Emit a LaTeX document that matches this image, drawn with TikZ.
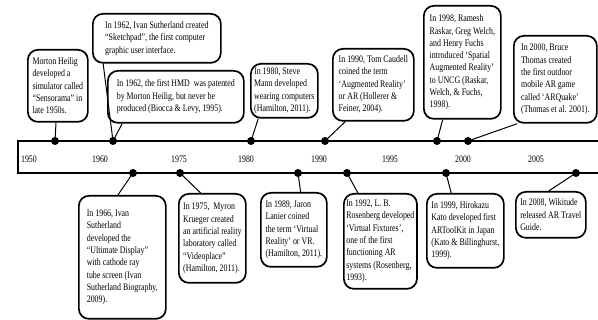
\documentclass[tikz,border=0pt]{standalone}
\usepackage{fontspec}
\setmainfont{Liberation Serif}[FakeStretch=0.79]
\usetikzlibrary{calc}

\begin{document}
\begin{tikzpicture}[
  x=1pt,y=-1pt,
  font=\fontsize{10}{12.3}\selectfont,
  event/.style={draw,line width=1.7pt,rounded corners=10pt,anchor=north west,align=left,inner xsep=2.5pt,inner ysep=2pt},
  dot/.style={circle,fill,inner sep=0pt,minimum size=8pt},
  link/.style={line width=1pt},
  bar/.style={line width=2.2pt},
  year/.style={inner sep=0pt}
]
\useasboundingbox (0,0) rectangle (598,320);
% timeline bar
\draw[bar] (598,141) -- (18,141) -- (18,173) -- (598,173);
\foreach \yr/\xx in {1950/29,1960/100,1975/179,1980/246,1990/319,1995/390,2000/463,2005/536}
  \node[year] (y\yr) at (\xx,159) {\yr};

% events above the bar
\node[event,minimum width=60pt,minimum height=72pt] (heilig) at (27,49) {Morton Heilig\\developed a\\simulator called\\``Sensorama'' in\\late 1950s.};
\node[event,minimum width=128pt,minimum height=49pt] (sketch) at (92,13) {In 1962, Ivan Sutherland created\\``Sketchpad'', the first computer\\graphic user interface.};
\node[event,minimum width=136pt,minimum height=52pt] (hmd) at (107,70) {In 1962, the first HMD\ \ was patented\\by Morton Heilig, but never be\\produced (Biocca \& Levy, 1995).};
\node[event,minimum width=67pt,minimum height=54pt] (mann) at (250,63) {In 1980, Steve\\Mann developed\\wearing computers\\(Hamilton, 2011).};
\node[event,minimum width=81pt,minimum height=72pt] (caudell) at (332,48) {In 1990, Tom Caudell\\coined the term\\`Augmented Reality'\\or AR (Hollerer \&\\Feiner, 2004).};
\node[event,minimum width=77pt,minimum height=113pt] (raskar) at (423,5) {In 1998, Ramesh\\Raskar, Greg Welch,\\and Henry Fuchs\\introduced `Spatial\\Augmented Reality'\\to UNCG (Raskar,\\Welch, \& Fuchs,\\1998).};
\node[event,minimum width=83pt,minimum height=87pt] (thomas) at (513,35) {In 2000, Bruce\\Thomas created\\the first outdoor\\mobile AR game\\called `ARQuake'\\(Thomas et al. 2001).};

% events below the bar
\node[event,minimum width=87pt,minimum height=123pt] (suth) at (78,195) {In 1966, Ivan\\Sutherland\\developed the\\ ``Ultimate Display''\\with cathode ray\\tube screen (Ivan\\Sutherland Biography,\\2009).};
\node[event,minimum width=67pt,minimum height=89pt] (krueger) at (178,193) {In 1975,\ \ Myron\\Krueger created\\an artificial reality\\laboratory called\\``Videoplace''\\(Hamilton, 2011).};
\node[event,minimum width=66pt,minimum height=74pt] (lanier) at (260,192) {In 1989, Jaron\\Lanier coined\\the term `Virtual\\Reality' or VR.\\(Hamilton, 2011).};
\node[event,minimum width=69pt,minimum height=95pt] (rosen) at (343,193) {In 1992, L. B.\\Rosenberg developed\\`Virtual Fixtures',\\one of the first\\functioning AR\\systems (Rosenberg,\\1993).};
\node[event,minimum width=77pt,minimum height=74pt] (kato) at (426,193) {In 1999, Hirokazu\\Kato developed first\\ARToolKit in Japan\\(Kato \& Billinghurst,\\1999).};
\node[event,minimum width=70pt,minimum height=46pt] (wiki) at (515,191) {In 2008, Wikitude\\released AR Travel\\Guide.};

% dots on the bar
\node[dot] (dHeilig) at (55,141) {};
\node[dot] (dSketch) at (113,141) {};
\node[dot] (dMann) at (251,141) {};
\node[dot] (dCaudell) at (325,141) {};
\node[dot] (dRaskar) at (437,141) {};
\node[dot] (dThomas) at (468,141) {};
\node[dot] (dSuth) at (133,173) {};
\node[dot] (dKrueger) at (180,173) {};
\node[dot] (dLanier) at (298,173) {};
\node[dot] (dRosen) at (347,173) {};
\node[dot] (dKato) at (446,173) {};
\node[dot] (dWiki) at (576,173) {};

% connectors
\draw[link] ($(heilig.south west)!.47!(heilig.south east)$) -- (dHeilig.center);
\draw[link] ($(sketch.south west)!.086!(sketch.south east)$) -- (dSketch.center);
\draw[link] ($(hmd.south west)!.11!(hmd.south east)$) -- (dSketch.center);
\draw[link] ($(mann.south west)!.12!(mann.south east)$) -- (dMann.center);
\draw[link] ($(caudell.south west)!.16!(caudell.south east)$) -- (dCaudell.center);
\draw[link] ($(raskar.south west)!.25!(raskar.south east)$) -- (dRaskar.center);
\draw[link] ($(thomas.south west)!.05!(thomas.south east)$) -- (dThomas.center);
\draw[link] ($(suth.north west)!.45!(suth.north east)$) -- (dSuth.center);
\draw[link] ($(krueger.north west)!.33!(krueger.north east)$) -- (dKrueger.center);
\draw[link] ($(lanier.north west)!.6!(lanier.north east)$) -- (dLanier.center);
\draw[link] ($(rosen.north west)!.2!(rosen.north east)$) -- (dRosen.center);
\draw[link] ($(kato.north west)!.32!(kato.north east)$) -- (dKato.center);
\draw[link] ($(wiki.north west)!.47!(wiki.north east)$) -- (dWiki.center);
\end{tikzpicture}
\end{document}
